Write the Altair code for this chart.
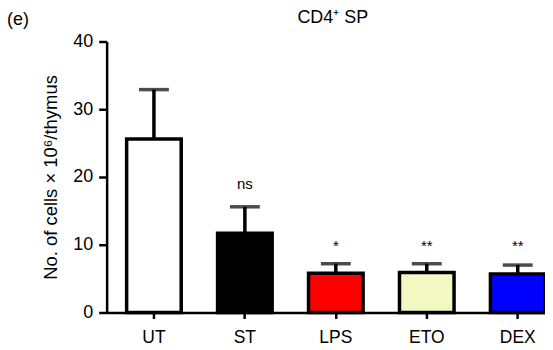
import altair as alt
import pandas as pd

categories = ["UT", "ST", "LPS", "ETO", "DEX"]
means = [25.6, 11.7, 5.8, 5.9, 5.7]
sems = [7.3, 3.9, 1.4, 1.3, 1.3]
colors = ["#ffffff", "#000000", "#ff0000", "#f3f7c2", "#0000ff"]
annotations = ["", "ns", "*", "**", "**"]
y_ticks = [0, 10, 20, 30, 40]

df = pd.DataFrame({
    "cat": categories,
    "mean": means,
    "upper": [m + s for m, s in zip(means, sems)],
    "color": colors,
    "ann": annotations,
})
df["ann_y"] = [0, 19.0, 9.8, 9.8, 9.8]

FONT = "Liberation Sans"

xscale = alt.Scale(domain=categories, paddingInner=0.4, paddingOuter=0.11, align=1)
yscale = alt.Scale(domain=[0, 40], nice=False)

x = alt.X("cat:N", scale=xscale, sort=categories,
          axis=alt.Axis(title=None, labelAngle=0, labelFontSize=17.5, labelFont=FONT,
                        labelColor="black", domainColor="black", domainWidth=2.5,
                        tickColor="black", tickWidth=2.5, tickSize=6, labelPadding=10))

base = alt.Chart(df)

bars = base.mark_bar(stroke="black", strokeWidth=3.5).encode(
    x=x,
    y=alt.Y("mean:Q", scale=yscale,
            axis=alt.Axis(title="No. of cells × 10⁶/thymus", values=y_ticks, grid=False,
                          labelFontSize=18, labelFont=FONT, labelColor="black",
                          titleFontSize=18.5, titleFont=FONT, titleFontWeight="normal",
                          titleColor="black", titlePadding=12,
                          domainColor="black", domainWidth=2.5, tickColor="black",
                          tickWidth=2.5, tickSize=8, labelPadding=6)),
    fill=alt.Fill("color:N", scale=None),
)

err = base.mark_rule(color="black", strokeWidth=3.5).encode(
    x=alt.X("cat:N", scale=xscale, sort=categories),
    y=alt.Y("mean:Q", scale=yscale),
    y2="upper:Q",
)

caps = base.mark_tick(color="black", thickness=3.5, size=30, orient="horizontal").encode(
    x=alt.X("cat:N", scale=xscale, sort=categories),
    y=alt.Y("upper:Q", scale=yscale),
)

ann = base.mark_text(font=FONT, fontSize=15, color="black", baseline="middle").encode(
    x=alt.X("cat:N", scale=xscale, sort=categories),
    y=alt.Y("ann_y:Q", scale=yscale),
    text="ann:N",
)

labels = pd.DataFrame({"t": ["(e)", "CD4⁺ SP"]})

panel = alt.Chart(labels.iloc[[0]]).mark_text(
    font=FONT, fontSize=18, color="black", align="left", baseline="middle"
).encode(x=alt.value(-100), y=alt.value(-22), text="t:N")

title = alt.Chart(labels.iloc[[1]]).mark_text(
    font=FONT, fontSize=18, color="black", align="center", baseline="middle"
).encode(x=alt.value(227), y=alt.value(-24), text="t:N")

chart = alt.layer(bars, err, caps, ann, panel, title).properties(
    width=440, height=272,
    autosize=alt.AutoSizeParams(type="none"),
    padding={"left": 99, "top": 33, "right": 0, "bottom": 33},
).configure_view(stroke=None)

chart.save("out.html", embed_options={"renderer": "svg", "actions": False})
